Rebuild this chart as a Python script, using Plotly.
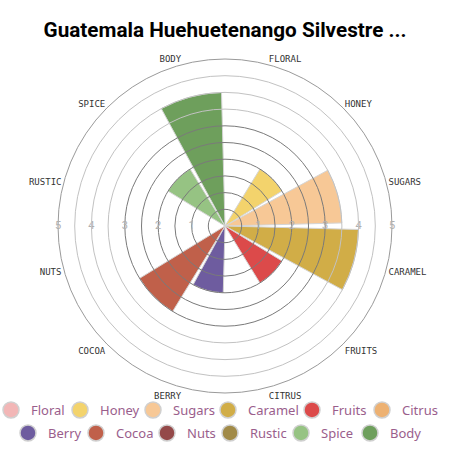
import plotly.graph_objects as go

notes = ["Floral", "Honey", "Sugars", "Caramel", "Fruits", "Citrus",
         "Berry", "Cocoa", "Nuts", "Rustic", "Spice", "Body"]
scores = [0, 2, 3.5, 4, 2, 0, 2, 3, 0, 0, 2, 4]
colors = ["#f2b6b6", "#f3d36c", "#f7c896", "#d1ad47", "#dc4a4a", "#edb172",
          "#6e5c9f", "#c0604a", "#944949", "#a18a47", "#96c383", "#6e9f5c"]
tick_vals = [1, 2, 3, 4, 5]
tick_text = ["1", "2", "3", "4", "5"]
inner_rings = [0.5, 1, 1.5, 2, 2.5, 3]
outer_rings = [3.5, 4, 4.5]

# swatch centres of the two legend rows (px from the left)
leg_x = [11, 80, 153, 228, 312, 382, 28, 96, 167, 230, 301, 370]
leg_y = [410, 410, 410, 410, 410, 410, 433, 433, 433, 433, 433, 433]

W = H = 450
fig = go.Figure()

# the wedges
fig.add_trace(go.Barpolar(
    r=scores, theta=notes,
    marker=dict(color=colors, line=dict(color="#d4d4d4", width=1)),
    showlegend=False, hoverinfo="skip"))

# legend entries with round swatches, one small legend each
legends = {}
for i, (n, c) in enumerate(zip(notes, colors)):
    key = "legend" if i == 0 else "legend%d" % (i + 1)
    fig.add_trace(go.Scatterpolar(
        r=[None], theta=[n], mode="markers", name=n, legend=key,
        marker=dict(color=c, size=16, line=dict(color="#d0d0d0", width=1.5))))
    legends[key] = dict(
        x=(leg_x[i] - 20) / W, xanchor="left",
        y=(H - leg_y[i]) / H, yanchor="middle",
        bgcolor="rgba(0,0,0,0)",
        font=dict(family="Noto Sans", size=13, color="#9a5e8c"))

# radial numbers on both sides, sitting on the horizontal diameter
for ang in (0, 180):
    fig.add_trace(go.Scatterpolar(
        r=tick_vals, theta=[ang] * len(tick_vals), mode="text",
        text=tick_text, subplot="polar2", showlegend=False, hoverinfo="skip",
        textfont=dict(family="Roboto", size=11, color="#b0b0b0")))
fig.add_trace(go.Scatterpolar(r=[None], theta=[None], subplot="polar3",
                              showlegend=False, hoverinfo="skip"))

dom = dict(x=[58 / W, 392 / W], y=[(H - 393) / H, (H - 59) / H])


def ring_layer(rings, color):
    return dict(
        domain=dom, bgcolor="rgba(0,0,0,0)",
        radialaxis=dict(range=[0, 5], showgrid=True, gridcolor=color,
                        gridwidth=0.8, showline=False, ticks="",
                        tickvals=rings, showticklabels=False),
        angularaxis=dict(visible=False))


fig.update_layout(
    width=W, height=H,
    margin=dict(l=0, r=0, t=0, b=0, autoexpand=False),
    paper_bgcolor="white",
    title=dict(text="<b>Guatemala Huehuetenango Silvestre ...</b>",
               x=0.5, xanchor="center", y=1 - 30 / H, yanchor="middle",
               font=dict(family="Roboto", size=20.7, color="black")),
    polar=dict(
        domain=dom, bgcolor="white",
        radialaxis=dict(range=[0, 5], showgrid=False, showline=False,
                        ticks="", showticklabels=False),
        angularaxis=dict(direction="clockwise", rotation=75, showgrid=False,
                         showline=True, linecolor="#9a9a9a", linewidth=1,
                         ticks="", tickvals=notes,
                         ticktext=[n.upper() for n in notes],
                         tickfont=dict(family="DejaVu Sans Mono", size=9,
                                       color="#333"))),
    polar2=ring_layer(inner_rings, "#7a7a7a"),
    polar3=ring_layer(outer_rings, "#c2c2c2"),
    **legends,
)

fig.write_html("out.html", config={"displayModeBar": False},
               post_script="document.body.style.margin='0px';")
